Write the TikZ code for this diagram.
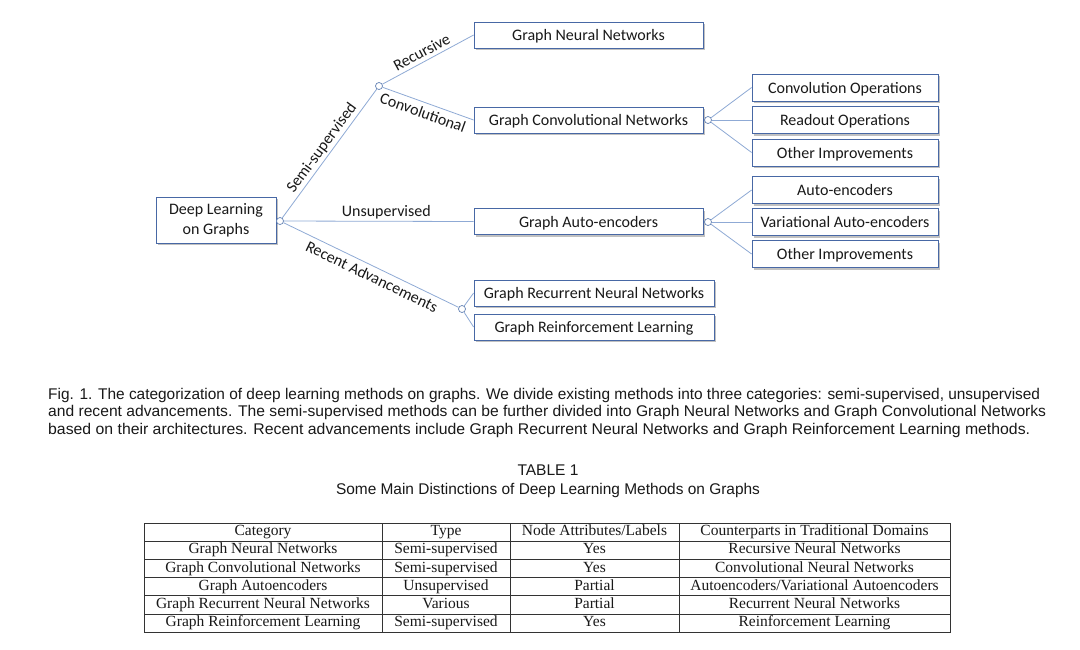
\documentclass[tikz,border=0pt]{standalone}
\usepackage{fontspec}
\usepackage{graphicx}
\setmainfont{Liberation Serif}
\newfontfamily\calibri{Carlito}
\newfontfamily\helv{Liberation Sans}
\usetikzlibrary{shadows}
\definecolor{boxblue}{RGB}{72,104,165}
\definecolor{lineblue}{RGB}{143,170,213}
\definecolor{circblue}{RGB}{100,130,180}
\definecolor{txt}{RGB}{25,25,25}
\newsavebox{\fitbox}
\newcommand{\fitline}[2]{\sbox{\fitbox}{#2}\pgfmathsetmacro{\fitfac}{#1/\the\wd\fitbox}\scalebox{\fitfac}[1]{\usebox{\fitbox}}}
\begin{document}
\begin{tikzpicture}[x=1pt,y=-1pt,
  box/.style={draw=boxblue, line width=0.8pt, fill=white, inner sep=0pt,
    font=\calibri\fontsize{16}{20}\selectfont, text=txt,
    general shadow={shadow xshift=2pt, shadow yshift=-2pt, fill=black!30, opacity=0.8}},
  onebox/.style={box, text height=12.5pt, text depth=1.5pt},
  mainbox/.style={onebox, minimum width=229pt, minimum height=26pt},
  recbox/.style={onebox, minimum width=240pt, minimum height=26pt},
  subbox/.style={onebox, minimum width=186pt, minimum height=27pt},
  link/.style={draw=lineblue, line width=0.8pt},
  dot/.style={circle, draw=circblue, fill=white, line width=0.7pt, minimum size=7pt, inner sep=0pt},
  lab/.style={font=\calibri\fontsize{16}{19}\selectfont, text=txt, inner sep=2pt},
  captxt/.style={anchor=west, inner sep=0pt, font=\helv\fontsize{15.5}{18}\selectfont, text=txt},
  cell/.style={inner sep=0pt, font=\fontsize{15.5}{18}\selectfont, text=txt, text height=11pt, text depth=3pt},
  rule/.style={draw=black!80, line width=0.8pt}
]
\fill[white] (0,0) rectangle (1080,649);
\useasboundingbox (0,0) rectangle (1080,649);

% ---------- diagram ----------
\node[box, minimum width=120pt, minimum height=46pt, align=center] (root) at (216,220) {\raisebox{-1.5pt}{Deep Learning}\\\raisebox{-1.5pt}{on Graphs}};
\node[mainbox] (gnn) at (588.5,35) {Graph Neural Networks};
\node[mainbox] (gcn) at (588.5,120) {Graph Convolutional Networks};
\node[mainbox] (gae) at (588.5,221.5) {Graph Auto-encoders};
\node[recbox] (grnn) at (594,293) {Graph Recurrent Neural Networks};
\node[recbox] (grl) at (594,327) {Graph Reinforcement Learning};
\node[subbox] (conv) at (845,87.5) {Convolution Operations};
\node[subbox] (read) at (845,120) {Readout Operations};
\node[subbox] (oth1) at (845,152.5) {Other Improvements};
\node[subbox] (ae) at (845,190) {Auto-encoders};
\node[subbox] (vae) at (845,222) {Variational Auto-encoders};
\node[subbox] (oth2) at (845,254) {Other Improvements};

\node[dot] (c0) at (280,221) {};
\node[dot] (c1) at (379,86) {};
\node[dot] (c2) at (708,120) {};
\node[dot] (c3) at (708,222) {};
\node[dot] (c4) at (462,309) {};

\draw[link] (c0) -- node[lab, sloped, above, pos=0.5] {Semi-supervised} (c1);
\draw[link] (c0) -- node[lab, above, pos=0.54] {Unsupervised} (gae.west);
\draw[link] (c0) -- node[lab, sloped, below, pos=0.53, inner sep=4pt] {Recent Advancements} (c4);
\draw[link] (c1) -- node[lab, sloped, above, pos=0.48, inner sep=3.5pt] {Recursive} (gnn.west);
\draw[link] (c1) -- node[lab, sloped, below, pos=0.48, inner sep=4pt] {Convolutional} (gcn.west);
\draw[link] (c2) -- (conv.west);
\draw[link] (c2) -- (read.west);
\draw[link] (c2) -- (oth1.west);
\draw[link] (c3) -- (ae.west);
\draw[link] (c3) -- (vae.west);
\draw[link] (c3) -- (oth2.west);
\draw[link] (c4) -- (grnn.west);
\draw[link] (c4) -- (grl.west);

% ---------- caption ----------
\node[captxt] (cap1) at (48,395) {\fitline{992pt}{Fig. 1. The categorization of deep learning methods on graphs. We divide existing methods into three categories: semi-supervised, unsupervised}};
\node[captxt] (cap2) at (48,412.5) {\fitline{998pt}{and recent advancements. The semi-supervised methods can be further divided into Graph Neural Networks and Graph Convolutional Networks}};
\node[captxt] (cap3) at (48,430) {\fitline{982pt}{based on their architectures. Recent advancements include Graph Recurrent Neural Networks and Graph Reinforcement Learning methods.}};

\node[inner sep=0pt, font=\helv\fontsize{15.5}{18}\selectfont, text=txt] (tt1) at (548,470) {\fitline{61pt}{TABLE 1}};
\node[inner sep=0pt, font=\helv\fontsize{15.5}{18}\selectfont, text=txt] (tt2) at (548,490) {\fitline{424pt}{Some Main Distinctions of Deep Learning Methods on Graphs}};

% ---------- table ----------
\draw[rule] (144,523) rectangle (950,632.2);
\foreach \yy in {541.2,559.4,577.6,595.8,614} \draw[rule] (144,\yy) -- (950,\yy);
\foreach \xx in {382,510,679} \draw[rule] (\xx,523) -- (\xx,632.2);

\node[cell] (h1) at (263,531.6) {Category};
\node[cell] (h2) at (446,531.6) {Type};
\node[cell] (h3) at (594.5,531.6) {Node Attributes/Labels};
\node[cell] (h4) at (814.5,531.6) {Counterparts in Traditional Domains};

\node[cell] (a1) at (263,549.8) {Graph Neural Networks};
\node[cell] (a2) at (446,549.8) {Semi-supervised};
\node[cell] (a3) at (594.5,549.8) {Yes};
\node[cell] (a4) at (814.5,549.8) {Recursive Neural Networks};

\node[cell] (b1) at (263,568) {Graph Convolutional Networks};
\node[cell] (b2) at (446,568) {Semi-supervised};
\node[cell] (b3) at (594.5,568) {Yes};
\node[cell] (b4) at (814.5,568) {Convolutional Neural Networks};

\node[cell] (d1) at (263,586.2) {Graph Autoencoders};
\node[cell] (d2) at (446,586.2) {Unsupervised};
\node[cell] (d3) at (594.5,586.2) {Partial};
\node[cell] (d4) at (814.5,586.2) {Autoencoders/Variational Autoencoders};

\node[cell] (e1) at (263,604.4) {Graph Recurrent Neural Networks};
\node[cell] (e2) at (446,604.4) {Various};
\node[cell] (e3) at (594.5,604.4) {Partial};
\node[cell] (e4) at (814.5,604.4) {Recurrent Neural Networks};

\node[cell] (f1) at (263,622.6) {Graph Reinforcement Learning};
\node[cell] (f2) at (446,622.6) {Semi-supervised};
\node[cell] (f3) at (594.5,622.6) {Yes};
\node[cell] (f4) at (814.5,622.6) {Reinforcement Learning};
\end{tikzpicture}
\end{document}
